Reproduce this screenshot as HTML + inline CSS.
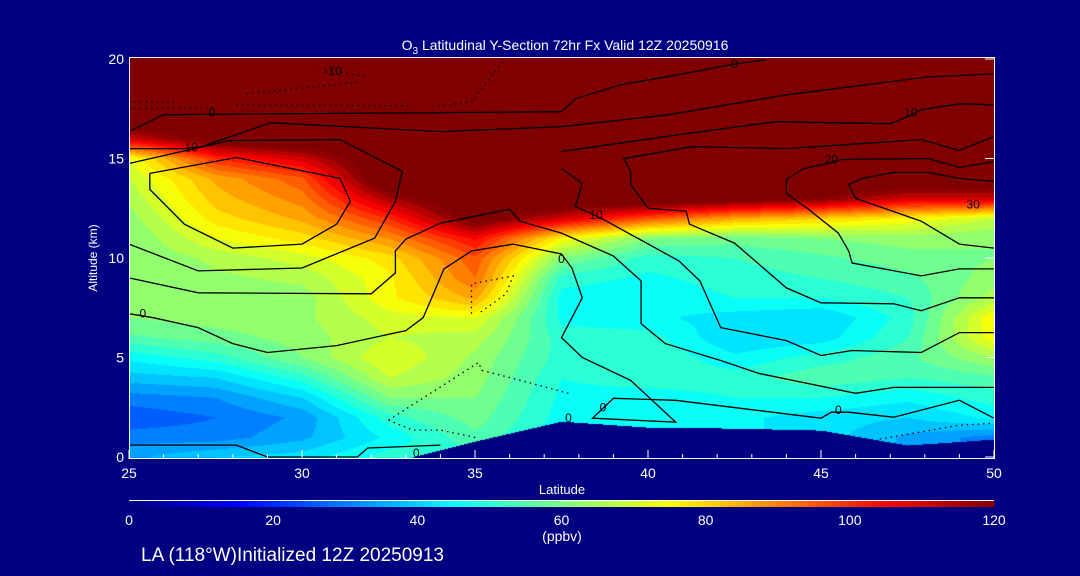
<!DOCTYPE html>
<html><head><meta charset="utf-8">
<style>
body{margin:0;background:#000080;width:1080px;height:576px;overflow:hidden;position:relative;font-family:"Liberation Sans",sans-serif;color:#fff}
#field{position:absolute;left:129px;top:57px}
svg{position:absolute;left:0;top:0}
</style></head>
<body>
<canvas id="field" width="865" height="402"></canvas>
<svg id="ov" width="1080" height="576"></svg>
<script>
// ---- data ----
const lats = [25,27.5,30,32.5,35,37.5,40,42.5,45,47.5,50];
const alts = [0,1,2,3,4,5,6,7,8,9,10,11,12,13,14,15,16,17,18,19,20];
const col25  =[35,30,25,30,38,45,55,60,62,62,60,60,62,65,68,72,110,130,130,130,130];
const col275 =[40,30,28,32,40,50,58,62,62,63,65,72,78,82,85,100,125,130,130,130,130];
const col30  =[42,35,33,40,50,60,62,63,62,65,70,78,85,90,95,110,130,130,130,130,130];
const col325 =[50,45,50,60,68,72,68,70,75,75,78,88,100,115,130,130,130,130,130,130,130];
const col35  =[50,55,58,60,62,63,66,72,85,92,95,105,125,130,130,130,130,130,130,130,130];
const col375 =[45,45,46,47,48,50,50,47,46,50,60,75,110,130,130,130,130,130,130,130,130];
const col40  =[45,45,44,46,50,52,50,45,45,47,50,60,95,130,130,130,130,130,130,130,130];
const col425 =[45,45,45,48,50,45,40,42,48,50,52,58,85,125,130,130,130,130,130,130,130];
const col45  =[42,42,42,48,55,50,42,40,48,52,55,60,80,120,130,130,130,130,130,130,130];
const col475 =[35,35,40,45,52,55,52,50,52,55,58,62,75,110,130,130,130,130,130,130,130];
const col50  =[30,30,45,50,55,64,75,76,66,62,60,60,68,110,130,130,130,130,130,130,130];
const terrain = [0,0,0,-0.3,0.8,1.8,1.5,1.45,1.35,0.6,0.9];
const cbTicks = [0,20,40,60,80,100,120];
const xTicks = [25,30,35,40,45,50];
const yTicks = [0,5,10,15,20];
// contour lines [lat,alt]
const solidLines = [
 [[25,16.35],[26,17.2],[37.5,17.35],[37.9,18],[39.2,18.7],[41,19.25],[42.5,19.75],[43.4,19.95]],
 [[25,15.5],[26.6,15.5],[27.1,15.6],[29.1,16.8],[34,16.35],[37.5,16.6],[40.6,17.2],[44,18.2],[48.1,19.1],[50,19.25]],
 [[25,14.75],[27.9,15.9],[31.1,15.95],[32.9,14.35],[32.7,12.85],[32.1,11],[30,9.5],[27,9.35],[25,10.7]],
 [[25.6,14.25],[28.1,15.05],[31.1,14],[31.4,12.85],[31,11.7],[30,10.7],[28,10.5],[26.6,11.7],[25.6,13.45],[25.6,14.25]],
 [[25,9],[27,8.25],[32,8.2],[32.7,9.25],[32.7,10.35],[33,10.95],[34,11.75],[36,12.45],[36.3,11.85],[37.5,11.25],[39,10.1],[39.8,8.85],[39.8,6.7],[40.5,5.7],[42.1,4.85],[43.2,4.2],[46,3.2],[47.1,3.5],[50,3.5]],
 [[37.5,14.5],[38.1,13.75],[37.9,12.6],[38.7,11.95],[40.9,9.85],[41.5,8.85],[42.1,6.5],[44,5.85],[45,5.1],[45.9,5.35],[47.9,5.25],[49,6.25],[50,6.25]],
 [[50,16.1],[49,15.4],[47.9,15.95],[44,15.5],[41.3,15.6],[39.3,15],[39.5,14.35],[39.5,13.7],[40,12.5],[41.1,12.35],[41.2,11.7],[42.5,10.75],[44,8.5],[45,7.75],[47.1,7.7],[47.9,7.35],[49,8],[50,8]],
 [[50,14.85],[49,14.55],[48.1,15],[45.6,14.95],[45.2,14.75],[44.5,14.5],[44,13.95],[44,13.25],[44.6,12.5],[45.5,11.25],[45.8,10.35],[45.9,9.75],[47.9,9.1],[49,9.45],[50,9.45]],
 [[50,13.85],[49,14],[48.1,14.3],[47.1,14.3],[46.2,14],[45.8,13.7],[46,13],[47.9,11.85],[49,10.7],[50,10.5]],
 [[37.5,15.35],[41.1,16.25],[43.7,16.85],[47,16.75],[47.5,17.1],[47.9,17.45],[49,17.75],[50,17.7]],
 [[25,7.2],[25.7,7],[27,6.5],[28,5.7],[29,5.25],[31,5.6],[33,6.35],[33.5,7],[33.8,8.2],[34.1,9.45],[34.9,10.35],[36.1,10.7],[37.5,10.2],[37.8,9.5],[38.1,8],[37.5,6],[38.1,5],[39.5,3.85],[40.8,1.75],[38.4,1.95],[39,2.95],[40.8,2.85],[45,1.95],[45.3,2.25],[45.8,2.25],[47.1,2],[49,2.85],[50,1.95]],
 [[25,0.6],[28.1,0.6],[29,0],[31.6,0],[31.9,0.45],[34,0.6]]
];
const dottedLines = [
 [[34.9,7.2],[34.9,8.7],[36.1,9.1],[35.9,8.2],[35.1,7.2]],
 [[32.5,1.85],[35.1,4.75],[35.2,4.35],[36.1,3.95],[37.7,3.2]],
 [[32.5,1.85],[33.2,1.35],[34,1.35],[35.1,0.95]],
 [[25,17.85],[26.3,17.85]],[[25,17.5],[27.5,17.55]],[[28.1,17.7],[33.2,17.65]],
 [[28.4,18.25],[31.7,18.85]],[[30.5,19.5],[31.9,19.1]],[[35.8,19.85],[34.9,17.85],[33.8,17.6]],
 [[46.7,0.9],[49,1.6],[50,1.7]]
];
const labelText = ["0","10","-10","0","0","0","10","20","10","0","0","0","0","30"];
const labelPos = [[27.4,17.3],[26.8,15.55],[30.9,19.4],[25.4,7.2],[33.3,0.2],[42.5,19.75],[47.6,17.3],[45.3,14.95],[38.5,12.15],[37.5,9.95],[38.7,2.5],[37.7,1.95],[45.5,2.35],[49.4,12.7]];

const cols=[col25,col275,col30,col325,col35,col375,col40,col425,col45,col475,col50];
const X0=129,XS=34.6,Y0=457,YS=19.9;
const X=l=>X0+(l-25)*XS, Y=a=>Y0-a*YS;
function jet(t){t=Math.max(0,Math.min(1,t));const c=v=>Math.round(255*Math.max(0,Math.min(1,v)));
 return [c(1.5-Math.abs(4*t-3)),c(1.5-Math.abs(4*t-2)),c(1.5-Math.abs(4*t-1))];}
function val(lat,alt){
 let i=(lat-lats[0])/2.5; i=Math.max(0,Math.min(lats.length-1.0001,i)); const i0=Math.floor(i),fi=i-i0;
 let j=Math.max(0,Math.min(alts.length-1.0001,alt)); const j0=Math.floor(j),fj=j-j0;
 const a=cols[i0][j0]*(1-fj)+cols[i0][j0+1]*fj, b=cols[i0+1][j0]*(1-fj)+cols[i0+1][j0+1]*fj;
 return a*(1-fi)+b*fi;}
function terr(lat){let i=(lat-25)/2.5;i=Math.max(0,Math.min(9.9999,i));const i0=Math.floor(i),f=i-i0;return terrain[i0]*(1-f)+terrain[i0+1]*f;}
const cv=document.getElementById('field'),ctx=cv.getContext('2d');
const img=ctx.createImageData(cv.width,cv.height);
for(let py=0;py<cv.height;py++){const alt=(Y0-(57+py))/YS;
 for(let px=0;px<cv.width;px++){const lat=25+px/XS;let rgb;
  if(alt<terr(lat)) rgb=[0,0,128]; else {let v=val(lat,alt);v=Math.floor(v/4)*4+2;rgb=jet(v/120);}
  const k=(py*cv.width+px)*4;img.data[k]=rgb[0];img.data[k+1]=rgb[1];img.data[k+2]=rgb[2];img.data[k+3]=255;}}
ctx.putImageData(img,0,0);

const NS='http://www.w3.org/2000/svg',svg=document.getElementById('ov');
function el(tag,attrs,parent){const e=document.createElementNS(NS,tag);for(const k in attrs)e.setAttribute(k,attrs[k]);(parent||svg).appendChild(e);return e;}
const pts=l=>l.map(p=>X(p[0]).toFixed(1)+','+Y(p[1]).toFixed(1)).join(' ');
solidLines.forEach(l=>{const e=el('polyline',{points:pts(l),fill:'none',stroke:'#000','stroke-width':1.3});
 
 });
dottedLines.forEach(l=>{const e=el('polyline',{points:pts(l),fill:'none',stroke:'#000','stroke-width':1.3,'stroke-dasharray':'1.5,4'});
 
 });
labelText.forEach((t,i)=>{const e=el('text',{x:X(labelPos[i][0]),y:Y(labelPos[i][1])+4,'font-size':12,'text-anchor':'middle',fill:'#000'});e.textContent=t;
 
 });
// frame
const fr=el('rect',{x:129.5,y:57.5,width:865,height:401,fill:'none',stroke:'#fff','stroke-width':1});


for(let l=25;l<=50;l++){const maj=l%5===0;const t=el('line',{x1:X(l),x2:X(l),y1:459,y2:maj?450:454,stroke:'#fff'});
 
 }
xTicks.forEach(l=>{const e=el('text',{x:X(l),y:478,'font-size':14,'text-anchor':'middle',fill:'#fff'});e.textContent=l;
 
 });
yTicks.forEach(a=>{const e=el('text',{x:124,y:Y(a)+5,'font-size':14,'text-anchor':'end',fill:'#fff'});e.textContent=a;
 
 
 const t=el('line',{x1:985,x2:994,y1:Y(a),y2:Y(a),stroke:'#fff'});
 
 });
const tt=el('text',{x:565,y:50,'font-size':14,'text-anchor':'middle',fill:'#fff','xml:space':'preserve'});


tt.innerHTML='O<tspan font-size="10" dy="4">3</tspan><tspan dy="-4"> Latitudinal Y-Section 72hr  Fx Valid 12Z 20250916</tspan>';
const yt=el('text',{x:0,y:0,'font-size':12,'text-anchor':'middle',fill:'#fff',transform:'translate(97,258) rotate(-90)'});yt.textContent='Altitude (km)';


const xt=el('text',{x:562,y:494,'font-size':13,'text-anchor':'middle',fill:'#fff'});xt.textContent='Latitude';


// colorbar
const cb=el('g',{});


el('line',{x1:129,x2:994,y1:500.5,y2:500.5,stroke:'#fff'},cb);
const CX=v=>129+v/120*865;
for(let v=0;v<120;v+=0.5){const c=jet(v/120);el('rect',{x:CX(v),y:501,width:865/240+0.5,height:6,fill:`rgb(${c})`},cb);}
cbTicks.forEach(v=>{const e=el('text',{x:CX(v),y:525,'font-size':14,'text-anchor':'middle',fill:'#fff'});e.textContent=v;
 
 });
const un=el('text',{x:562,y:541,'font-size':14,'text-anchor':'middle',fill:'#fff'});un.textContent='(ppbv)';


const ft=el('text',{x:141,y:561,'font-size':19,fill:'#fff'});ft.textContent='LA (118°W)Initialized 12Z 20250913';


</script>
</body></html>
